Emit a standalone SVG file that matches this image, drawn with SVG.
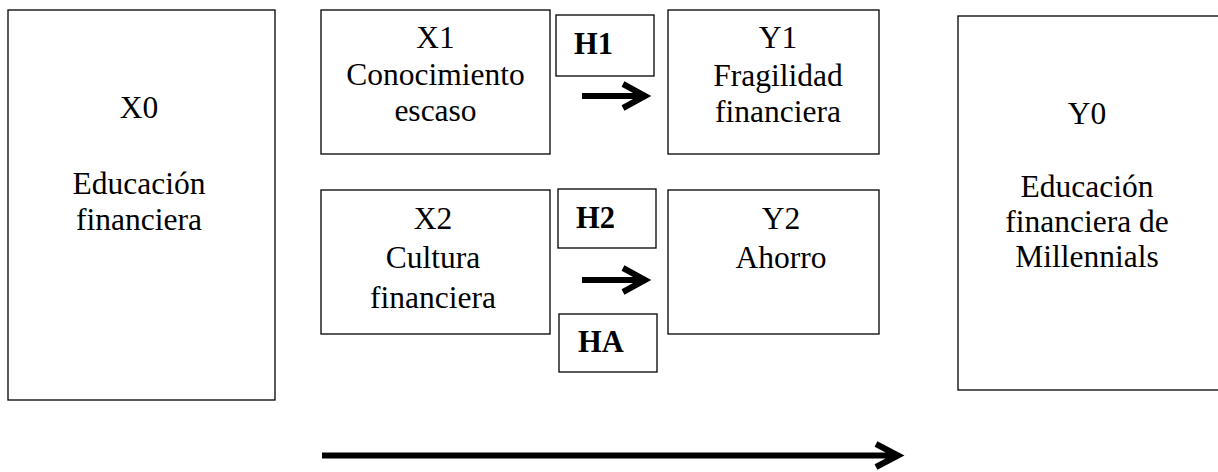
<svg xmlns="http://www.w3.org/2000/svg" width="1218" height="472" viewBox="0 0 1218 472">
<style>
.box{fill:#fff;stroke:#000;stroke-width:1.3}
.t{font-family:"Liberation Serif","Times New Roman",serif;font-size:31.5px;text-anchor:middle;fill:#000}
.h{font-family:"Liberation Serif","Times New Roman",serif;font-size:30.5px;font-weight:bold;fill:#000}
.arr{fill:none;stroke:#000;stroke-width:6}
</style>
<rect width="1218" height="472" fill="#fff"/>
<g id="X0">
<rect class="box" x="8" y="10" width="267" height="390"/>
<text class="t" x="139" y="118">X0</text>
<text class="t" x="139" y="194">Educación</text>
<text class="t" x="139" y="230">financiera</text>
</g>
<g id="X1">
<rect class="box" x="321" y="10" width="229" height="144"/>
<text class="t" x="435.5" y="48">X1</text>
<text class="t" x="435.5" y="85">Conocimiento</text>
<text class="t" x="435.5" y="121">escaso</text>
</g>
<g id="H1">
<rect class="box" x="556" y="15" width="98" height="61"/>
<text class="h" x="574" y="54">H1</text>
</g>
<g id="Y1">
<rect class="box" x="668" y="10" width="211" height="144"/>
<text class="t" x="778" y="48">Y1</text>
<text class="t" x="778" y="86">Fragilidad</text>
<text class="t" x="778" y="122">financiera</text>
</g>
<g id="X2">
<rect class="box" x="321" y="190" width="229" height="144"/>
<text class="t" x="433" y="229">X2</text>
<text class="t" x="433" y="268">Cultura</text>
<text class="t" x="433" y="308">financiera</text>
</g>
<g id="H2">
<rect class="box" x="558" y="189" width="98" height="59"/>
<text class="h" x="576" y="228">H2</text>
</g>
<g id="HA">
<rect class="box" x="559" y="314" width="98" height="58"/>
<text class="h" x="578" y="352">HA</text>
</g>
<g id="Y2">
<rect class="box" x="668" y="190" width="211" height="144"/>
<text class="t" x="781" y="229">Y2</text>
<text class="t" x="781" y="268">Ahorro</text>
</g>
<g id="Y0">
<rect class="box" x="958" y="16" width="280" height="374"/>
<text class="t" x="1087" y="124">Y0</text>
<text class="t" x="1087" y="197">Educación</text>
<text class="t" x="1087" y="232">financiera de</text>
<text class="t" x="1087" y="267">Millennials</text>
</g>
<g id="connectors">
<path class="arr" d="M582,96 H644 M623,84 L645,96 L623,108"/>
<path class="arr" d="M582,280 H644 M623,268 L645,280 L623,292"/>
<path class="arr" d="M322,455.5 H897 M876,444 L898,455.5 L876,467"/>
</g>
</svg>
